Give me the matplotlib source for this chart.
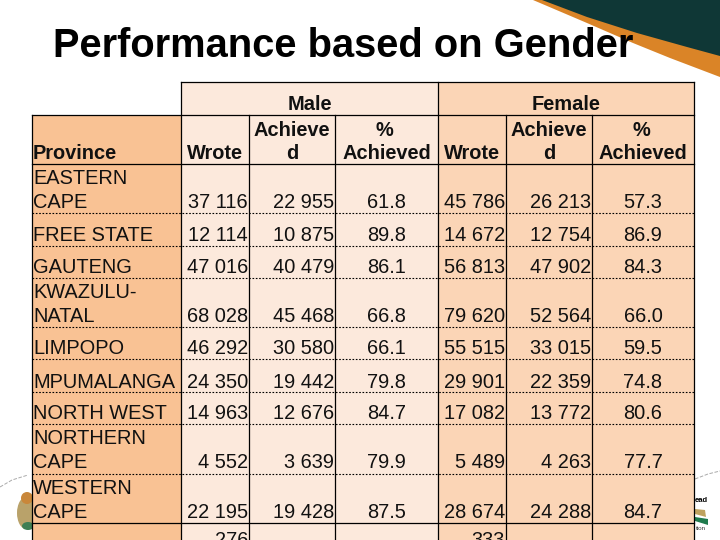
import matplotlib
matplotlib.use("Agg")
import matplotlib.pyplot as plt
from matplotlib.patches import Rectangle, Polygon, Ellipse

plt.rcParams['font.family'] = ['Liberation Sans', 'DejaVu Sans']

# Table data
provinces = ["EASTERN\nCAPE", "FREE STATE", "GAUTENG", "KWAZULU-\nNATAL", "LIMPOPO",
             "MPUMALANGA", "NORTH WEST", "NORTHERN\nCAPE", "WESTERN\nCAPE"]
male_wrote = ["37 116", "12 114", "47 016", "68 028", "46 292", "24 350", "14 963", "4 552", "22 195"]
male_achieved = ["22 955", "10 875", "40 479", "45 468", "30 580", "19 442", "12 676", "3 639", "19 428"]
male_pct = ["61.8", "89.8", "86.1", "66.8", "66.1", "79.8", "84.7", "79.9", "87.5"]
female_wrote = ["45 786", "14 672", "56 813", "79 620", "55 515", "29 901", "17 082", "5 489", "28 674"]
female_achieved = ["26 213", "12 754", "47 902", "52 564", "33 015", "22 359", "13 772", "4 263", "24 288"]
female_pct = ["57.3", "86.9", "84.3", "66.0", "59.5", "74.8", "80.6", "77.7", "84.7"]
total_wrote = ["276", "333"]

# Layout in pixels of the slide
col_edges = [32, 181, 249, 335, 438, 506, 592, 694]
row_lines = [213, 246, 278, 327, 359, 392, 424, 474, 523]
row_base = [208, 241, 273, 322, 354, 388, 419, 468, 518]
top, header_mid, header_bottom = 82, 115, 164

fig = plt.figure(figsize=(7.2, 5.4), dpi=100)
ax = fig.add_axes([0, 0, 1, 1])
ax.set_xlim(0, 720)
ax.set_ylim(540, 0)
ax.axis('off')

# Swoosh at the top right
orange_x = [533, 587, 633, 670, 720]
orange_y = [0, 23, 43, 58, 77]
teal_x = [542, 587, 637, 687, 720]
teal_y = [0, 17, 33, 47, 56]
ax.add_patch(Polygon(list(zip(orange_x, orange_y)) + [(720, 0)], color='#DA8427', lw=0, zorder=1))
ax.add_patch(Polygon(list(zip(teal_x, teal_y)) + [(720, 0)], color='#0F3736', lw=0, zorder=2))

# Faint arcs and logo scraps at the bottom
ax.plot([0, 12, 28], [487, 480, 475], color='#aaaaaa', lw=0.7, ls='--', zorder=1)
ax.plot([695, 708, 720], [479, 474, 471], color='#aaaaaa', lw=0.7, ls='--', zorder=1)
ax.add_patch(Ellipse((26, 513), 18, 32, color='#B9A26A', lw=0, zorder=1))
ax.add_patch(Ellipse((27, 498), 12, 12, color='#C9873A', lw=0, zorder=1))
ax.add_patch(Ellipse((28, 526), 12, 8, color='#3F7F55', lw=0, zorder=1))
ax.add_patch(Polygon([(695, 509), (705, 510), (706, 517), (695, 514)], color='#BFA25F', lw=0, zorder=1))
ax.add_patch(Polygon([(695, 517), (708, 519), (708, 525), (695, 521)], color='#1F7A4D', lw=0, zorder=1))
ax.text(695, 500, "ead", fontsize=5.5, fontweight='bold', va='center', ha='left', zorder=1)
ax.text(696, 528, "tion", fontsize=4.5, va='center', ha='left', color='#333333', zorder=1)

# Title
ax.text(53, 57, "Performance based on Gender", fontsize=28.75, fontweight='bold', ha='left',
        va='baseline', zorder=3)

# Cell fills
ax.add_patch(Rectangle((32, header_mid), 149, 540 - header_mid, color='#F9C294', lw=0, zorder=3))
ax.add_patch(Rectangle((181, top), 257, 540 - top, color='#FCE9DC', lw=0, zorder=3))
ax.add_patch(Rectangle((438, top), 256, 540 - top, color='#FBD5B6', lw=0, zorder=3))

# Grid lines
line_z = 4
lw = 0.9
ax.plot([181, 694], [top, top], color='black', lw=lw, zorder=line_z)
ax.plot([32, 694], [header_mid, header_mid], color='black', lw=lw, zorder=line_z)
ax.plot([32, 694], [header_bottom, header_bottom], color='black', lw=lw, zorder=line_z)
for y in row_lines[:-1]:
    ax.plot([32, 694], [y, y], color='black', lw=0.8, ls=(0, (1.5, 1.5)), zorder=line_z)
ax.plot([32, 694], [row_lines[-1], row_lines[-1]], color='black', lw=lw, zorder=line_z)
for x in col_edges:
    y0 = top if x in (181, 438, 694) else header_mid
    ax.plot([x, x], [y0, 540], color='black', lw=lw, zorder=line_z)

fs = 14.4
txt = dict(fontsize=fs, va='baseline', linespacing=1.31, zorder=5, color='#111111')

# Header
for label, left, right in [("Male", 181, 438), ("Female", 438, 694)]:
    ax.text((left + right) / 2, 110, label, ha='center', fontweight='bold', **txt)
ax.text(33, 159, "Province", ha='left', fontweight='bold', **txt)
for col in (1, 4):
    ax.text((col_edges[col] + col_edges[col + 1]) / 2, 159, "Wrote", ha='center', fontweight='bold', **txt)
    ax.text((col_edges[col + 1] + col_edges[col + 2]) / 2, 136, "Achieve", ha='center', fontweight='bold', **txt)
    ax.text((col_edges[col + 1] + col_edges[col + 2]) / 2, 159, "d", ha='center', fontweight='bold', **txt)
    ax.text((col_edges[col + 2] + col_edges[col + 3]) / 2 - 2, 136, "%", ha='center', fontweight='bold', **txt)
    ax.text((col_edges[col + 2] + col_edges[col + 3]) / 2, 159, "Achieved", ha='center', fontweight='bold', **txt)

# Body
columns = [male_wrote, male_achieved, male_pct, female_wrote, female_achieved, female_pct]
for r, base in enumerate(row_base):
    ax.text(33, base, provinces[r], ha='left', **txt)
    for c, values in enumerate(columns):
        if c in (2, 5):
            ax.text((col_edges[c + 1] + col_edges[c + 2]) / 2, base, values[r], ha='center', **txt)
        else:
            ax.text(col_edges[c + 2] - 1, base, values[r], ha='right', **txt)

# Totals row is cut off by the slide edge
ax.text(col_edges[2] - 1, 546, total_wrote[0], ha='right', **txt)
ax.text(col_edges[5] - 1, 546, total_wrote[1], ha='right', **txt)

fig.savefig("out.png", dpi=100)
